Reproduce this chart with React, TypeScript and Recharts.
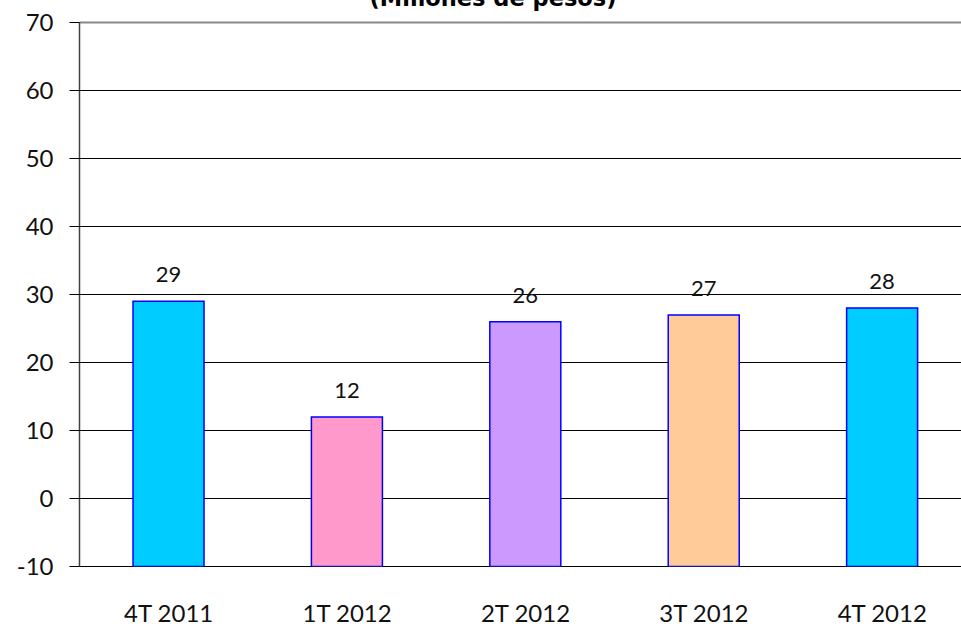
import React from "react";
import {
  BarChart,
  Bar,
  XAxis,
  YAxis,
  CartesianGrid,
  Cell,
  LabelList,
  ReferenceLine
} from "recharts";

const categories = ["4T 2011", "1T 2012", "2T 2012", "3T 2012", "4T 2012"];
const values = [29, 12, 26, 27, 28];
const barColors = ["#00CCFF", "#FF99CC", "#CC99FF", "#FFCC99", "#00CCFF"];
const yTicks = [-10, 0, 10, 20, 30, 40, 50, 60, 70];
const edgeTicks = [0, 1, 2, 3, 4, 5];
const axisFloor = -10;

const FONT = "Lato, 'DejaVu Sans', sans-serif";
const textStyle = { fontSize: 24, fill: "#111", fontFamily: FONT, fontWeight: 400 };

// bars rise from the bottom of the axis (-10), so each one is a range bar
const data = categories.map((name, i) => ({
  name,
  value: values[i],
  range: [axisFloor, values[i]]
}));

const App: React.FC = () => {
  return (
    <div
      style={{
        position: "absolute",
        left: 0,
        top: 0,
        width: 961,
        height: 631,
        overflow: "hidden",
        background: "#fff",
        fontFamily: FONT
      }}
    >
      <div
        style={{
          position: "absolute",
          left: 493,
          top: -13,
          transform: "translateX(-50%)",
          whiteSpace: "nowrap",
          fontSize: 22.5,
          lineHeight: "22.5px",
          fontWeight: "bold",
          fontFamily: "'DejaVu Sans', sans-serif",
          color: "#000"
        }}
      >
        (Millones de pesos)
      </div>
      <BarChart
        width={980}
        height={631}
        data={data}
        margin={{ top: 22.5, right: 8.5, left: 0, bottom: 0 }}
        barCategoryGap="30%"
      >
        <CartesianGrid
          xAxisId="cat"
          horizontal={true}
          vertical={false}
          stroke="#000"
          strokeWidth={1}
        />
        <XAxis
          xAxisId="edges"
          type="number"
          domain={[0, 5]}
          ticks={edgeTicks}
          interval={0}
          height={0}
          tick={false}
          tickSize={10}
          tickLine={{ stroke: "#000" }}
          axisLine={{ stroke: "#000" }}
        />
        <XAxis
          xAxisId="cat"
          dataKey="name"
          height={64.5}
          axisLine={false}
          tickLine={false}
          tickSize={10}
          tickMargin={28}
          interval={0}
          tick={textStyle}
        />
        <YAxis
          width={79.5}
          domain={[-10, 70]}
          ticks={yTicks}
          interval={0}
          allowDataOverflow
          tickSize={10}
          tickMargin={16}
          axisLine={{ stroke: "#404040", strokeWidth: 1.5 }}
          tickLine={{ stroke: "#000" }}
          tick={textStyle}
        />
        <ReferenceLine
          xAxisId="cat"
          y={70}
          stroke="#888"
          strokeWidth={2}
        />
        <Bar
          xAxisId="cat"
          dataKey="range"
          stroke="#0000FF"
          strokeWidth={1.5}
          isAnimationActive={false}
        >
          {data.map((d, i) => (
            <Cell key={d.name} fill={barColors[i]} />
          ))}
          <LabelList
            dataKey="value"
            position="top"
            offset={19}
            style={{ ...textStyle, fontSize: 22 }}
          />
        </Bar>
      </BarChart>
    </div>
  );
};

export default App;
